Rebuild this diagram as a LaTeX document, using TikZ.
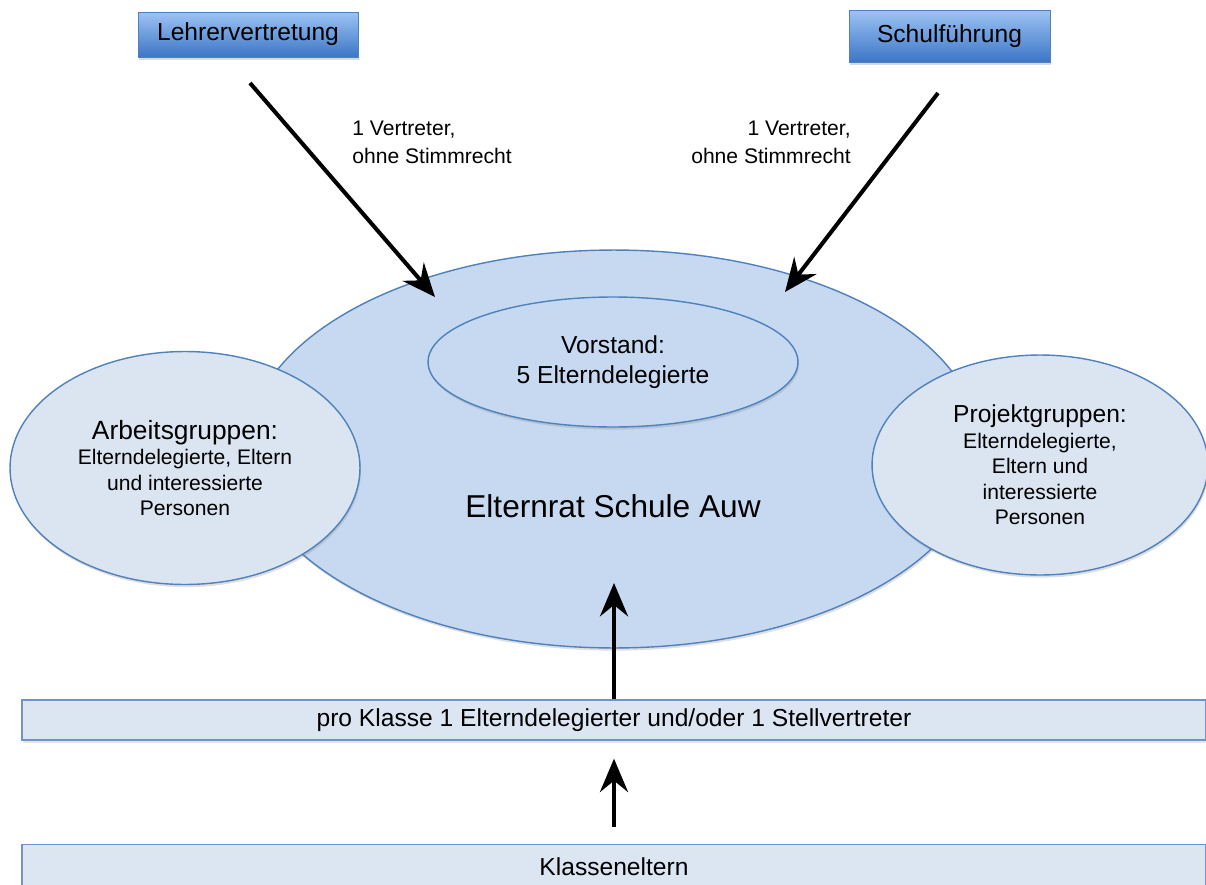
\documentclass[tikz,border=0pt]{standalone}
\usepackage{fontspec}
\setmainfont{Liberation Sans}
\usetikzlibrary{arrows.meta,shapes.geometric,shadows}
\definecolor{bigfill}{HTML}{C6D9F1}
\definecolor{smallfill}{HTML}{DBE5F1}
\definecolor{edgeblue}{HTML}{4F81BD}
\definecolor{barfill}{HTML}{DCE6F2}
\definecolor{baredge}{HTML}{6F95C8}
\definecolor{boxtop}{HTML}{9DC3F4}
\definecolor{boxbot}{HTML}{3C76C6}
\begin{document}
\begin{tikzpicture}[x=0.02cm,y=-0.02cm,
  ell/.style={ellipse, draw=edgeblue, line width=0.8pt, inner sep=0pt, align=center,
    drop shadow={shadow xshift=0.6pt, shadow yshift=-1.5pt, opacity=0.25}},
  topbox/.style={rectangle, draw=edgeblue, line width=0.5pt, top color=boxtop, bottom color=boxbot,
    inner sep=0pt, font=\fontsize{14}{17}\selectfont,
    drop shadow={shadow xshift=0.8pt, shadow yshift=-1.8pt, opacity=0.3}},
  bar/.style={rectangle, draw=baredge, fill=barfill, line width=0.8pt, inner sep=0pt,
    minimum width=23.68cm, font=\fontsize{14}{17}\selectfont,
    drop shadow={shadow xshift=0.6pt, shadow yshift=-1.5pt, opacity=0.2}},
  lbl/.style={inner sep=0pt, font=\fontsize{12}{16}\selectfont},
  arr/.style={line width=2.3pt, -{Stealth[length=19pt,width=16pt,inset=6.5pt]}}
]
\useasboundingbox (0,0) rectangle (1206,885);
\clip (0,0) rectangle (1206,885);

% central ellipse
\node[ell, fill=bigfill, minimum width=14.68cm, minimum height=7.96cm] (rat) at (614,449) {};
\node[inner sep=0pt, font=\fontsize{18}{22}\selectfont] (rattext) at (613,506) {Elternrat Schule Auw};

% Vorstand
\node[ell, fill=bigfill, minimum width=7.4cm, minimum height=2.6cm,
      font=\fontsize{14}{17}\selectfont] (vorstand) at (613,362) {Vorstand:\\5 Elterndelegierte};

% side ellipses
\node[ell, fill=smallfill, minimum width=7cm, minimum height=4.66cm,
      font=\fontsize{12}{14.5}\selectfont] (arbeit) at (185,468)
  {{\fontsize{15}{18}\selectfont Arbeitsgruppen:}\\Elterndelegierte, Eltern\\und interessierte\\Personen};
\node[ell, fill=smallfill, minimum width=6.72cm, minimum height=4.4cm,
      font=\fontsize{12}{14.5}\selectfont] (projekt) at (1040,465)
  {{\fontsize{14}{17}\selectfont Projektgruppen:}\\Elterndelegierte,\\Eltern und\\interessierte\\Personen};

% top boxes
\node[topbox, minimum width=4.4cm, minimum height=0.9cm] (lehrer) at (248,34.5) {Lehrervertretung};
\node[topbox, minimum width=4.02cm, minimum height=1.04cm] (schul) at (949.5,36) {Schulführung};

% labels
\node[lbl, anchor=north west, align=left] (lblL) at (352,121) {1 Vertreter,\\ohne Stimmrecht};
\node[lbl, anchor=north east, align=right] (lblR) at (851,121) {1 Vertreter,\\ohne Stimmrecht};

% bars
\node[bar, minimum height=0.8cm] (pro) at (614,720) {pro Klasse 1 Elterndelegierter und/oder 1 Stellvertreter};
\node[bar, minimum height=0.9cm] (klasse) at (614,867) {Klasseneltern};

% arrows
\coordinate (lStart) at (250,83);
\coordinate (lEnd) at (435,297);
\coordinate (rStart) at (938,93);
\coordinate (rEnd) at (785,292);
\coordinate (ratIn) at (614,583);
\draw[arr] (lStart) -- (lEnd);
\draw[arr] (rStart) -- (rEnd);
\draw[arr] (pro.north) -- (ratIn);
\draw[arr, shorten <=0.34cm, shorten >=0.36cm] (klasse.north) -- (pro.south);
\end{tikzpicture}
\end{document}
